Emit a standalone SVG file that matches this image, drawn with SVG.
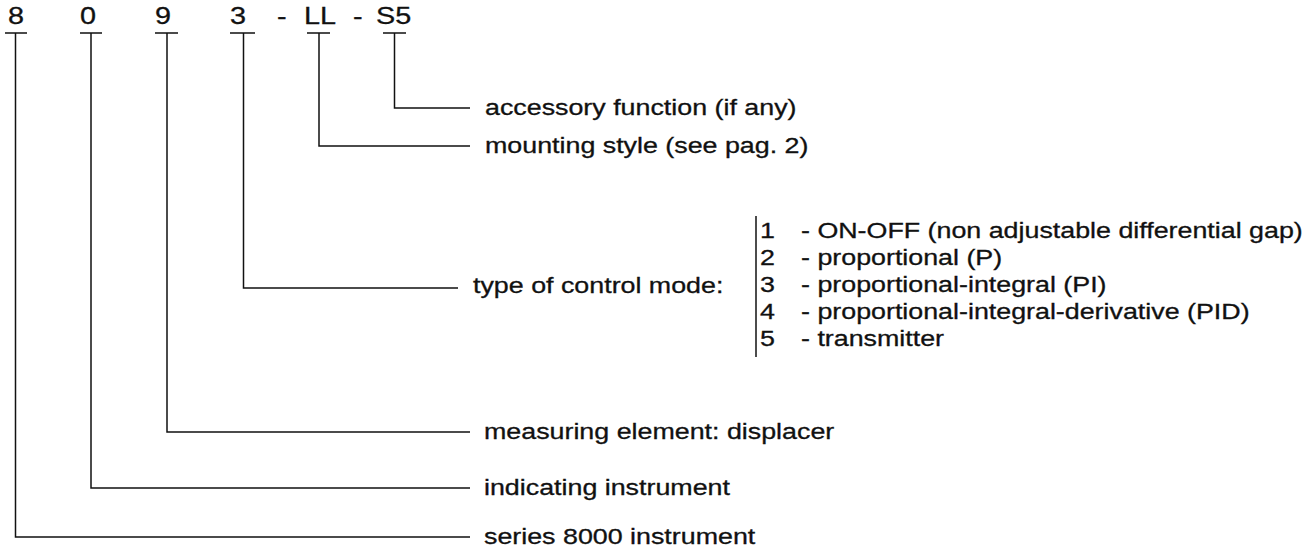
<svg xmlns="http://www.w3.org/2000/svg" width="1315" height="554" viewBox="0 0 1315 554">
<style>
text{font-family:"Liberation Sans",Arial,Helvetica,sans-serif;fill:#111;stroke:#111;stroke-width:0.3;}
.top{font-size:24px;}
.lbl{font-size:22px;}
.ln{stroke:#111;stroke-width:1.5;fill:none;}
</style>
<rect width="1315" height="554" fill="#fff"/>
<g id="code">
<text class="top" transform="translate(8,24) scale(1.2,1)">8</text>
<text class="top" transform="translate(80,24) scale(1.2,1)">0</text>
<text class="top" transform="translate(155,24) scale(1.2,1)">9</text>
<text class="top" transform="translate(230,24) scale(1.2,1)">3</text>
<text class="top" transform="translate(277,24) scale(1.2,1)">-</text>
<text class="top" transform="translate(304,24) scale(1.2,1)">LL</text>
<text class="top" transform="translate(353,24) scale(1.2,1)">-</text>
<text class="top" transform="translate(376,24) scale(1.2,1)">S5</text>
</g>
<g id="connectors">
<path class="ln" d="M5,33H27 M15.5,33V537H470"/>
<path class="ln" d="M80,33H102 M91,33V488H470"/>
<path class="ln" d="M155,33H178 M167,33V432H470"/>
<path class="ln" d="M230,33H255 M243.5,33V288H458"/>
<path class="ln" d="M307,33H330 M319,33V146H470"/>
<path class="ln" d="M383,33H406 M394.5,33V108H470"/>
<path class="ln" d="M756,216V357"/>
</g>
<g id="accessory"><text class="lbl" transform="translate(485,115) scale(1.22,1)">accessory function (if any)</text></g>
<g id="mounting"><text class="lbl" transform="translate(485,153) scale(1.22,1)">mounting style (see pag. 2)</text></g>
<g id="control">
<text class="lbl" transform="translate(473,293) scale(1.22,1)">type of control mode:</text>
<text class="lbl" transform="translate(760,238) scale(1.22,1)">1</text>
<text class="lbl" transform="translate(801,238) scale(1.22,1)">- ON-OFF (non adjustable differential gap)</text>
<text class="lbl" transform="translate(760,265) scale(1.22,1)">2</text>
<text class="lbl" transform="translate(801,265) scale(1.22,1)">- proportional (P)</text>
<text class="lbl" transform="translate(760,292) scale(1.22,1)">3</text>
<text class="lbl" transform="translate(801,292) scale(1.22,1)">- proportional-integral (PI)</text>
<text class="lbl" transform="translate(760,319) scale(1.22,1)">4</text>
<text class="lbl" transform="translate(801,319) scale(1.22,1)">- proportional-integral-derivative (PID)</text>
<text class="lbl" transform="translate(760,346) scale(1.22,1)">5</text>
<text class="lbl" transform="translate(801,346) scale(1.22,1)">- transmitter</text>
</g>
<g id="measuring"><text class="lbl" transform="translate(484,439) scale(1.22,1)">measuring element: displacer</text></g>
<g id="indicating"><text class="lbl" transform="translate(484,495) scale(1.22,1)">indicating instrument</text></g>
<g id="series"><text class="lbl" transform="translate(484,544) scale(1.22,1)">series 8000 instrument</text></g>
</svg>
